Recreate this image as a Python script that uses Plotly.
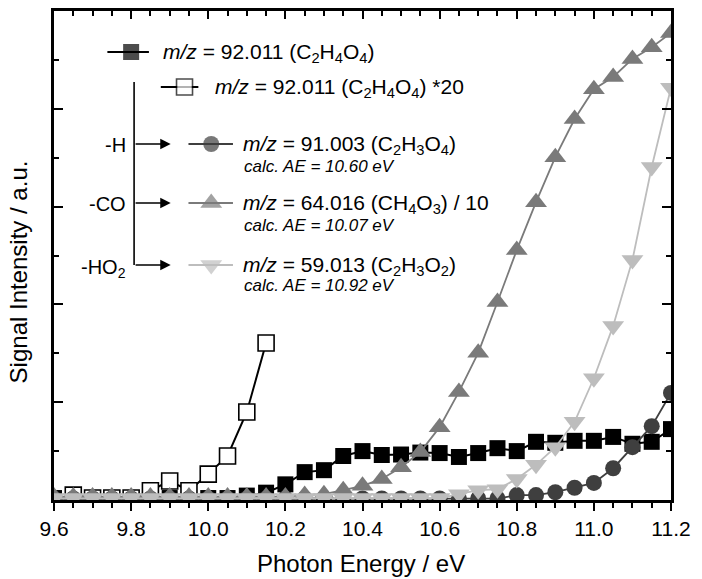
import plotly.graph_objects as go

# ---------------- data ----------------
energy = [9.60, 9.65, 9.70, 9.75, 9.80, 9.85, 9.90, 9.95, 10.00, 10.05, 10.10,
          10.15, 10.20, 10.25, 10.30, 10.35, 10.40, 10.45, 10.50, 10.55, 10.60,
          10.65, 10.70, 10.75, 10.80, 10.85, 10.90, 10.95, 11.00, 11.05, 11.10,
          11.15, 11.20]

mz92 = [0.04, 0.04, 0.04, 0.04, 0.04, 0.04, 0.04, 0.04, 0.04, 0.04, 0.09,
        0.15, 0.32, 0.57, 0.61, 0.90, 1.00, 0.92, 0.93, 0.97, 0.96,
        0.88, 0.96, 1.06, 1.00, 1.19, 1.17, 1.21, 1.21, 1.29, 1.15,
        1.19, 1.45]

energy_x20 = [9.65, 9.70, 9.75, 9.80, 9.85, 9.90, 9.95, 10.00, 10.05, 10.10, 10.15]
mz92_x20 = [0.10, 0.04, 0.04, 0.04, 0.19, 0.39, 0.19, 0.53, 0.90, 1.80, 3.21]

mz91 = [0.03, 0.03, 0.03, 0.03, 0.03, 0.03, 0.03, 0.03, 0.03, 0.03, 0.03,
        0.03, 0.03, 0.03, 0.03, 0.03, 0.03, 0.03, 0.03, 0.03, 0.03,
        0.03, 0.03, 0.03, 0.10, 0.10, 0.16, 0.25, 0.35, 0.65, 1.08,
        1.51, 2.19]

mz64 = [0.07, 0.07, 0.07, 0.07, 0.07, 0.07, 0.07, 0.07, 0.07, 0.07, 0.07,
        0.07, 0.07, 0.10, 0.12, 0.20, 0.29, 0.43, 0.67, 0.98, 1.49,
        2.21, 3.01, 4.05, 5.11, 6.09, 7.01, 7.79, 8.40, 8.65, 9.02,
        9.26, 9.55]

mz59 = [0.04, 0.04, 0.04, 0.04, 0.04, 0.04, 0.04, 0.04, 0.04, 0.04, 0.04,
        0.04, 0.04, 0.04, 0.04, 0.04, 0.04, 0.04, 0.04, 0.04, 0.04,
        0.12, 0.20, 0.22, 0.43, 0.72, 1.08, 1.60, 2.49, 3.56, 4.91,
        6.81, 8.43]

x_ticks = [9.6, 9.8, 10.0, 10.2, 10.4, 10.6, 10.8, 11.0, 11.2]
x_ticklabels = ["9.6", "9.8", "10.0", "10.2", "10.4", "10.6", "10.8", "11.0", "11.2"]

legend_main = [
    "<i>m/z</i> = 92.011 (C<sub>2</sub>H<sub>4</sub>O<sub>4</sub>)",
    "<i>m/z</i> = 92.011 (C<sub>2</sub>H<sub>4</sub>O<sub>4</sub>) *20",
    "<i>m/z</i> = 91.003 (C<sub>2</sub>H<sub>3</sub>O<sub>4</sub>)",
    "<i>m/z</i> = 64.016 (CH<sub>4</sub>O<sub>3</sub>) / 10",
    "<i>m/z</i> = 59.013 (C<sub>2</sub>H<sub>3</sub>O<sub>2</sub>)",
]
calc_ae = ["<i>calc. AE = 10.60 eV</i>", "<i>calc. AE = 10.07 eV</i>", "<i>calc. AE = 10.92 eV</i>"]
loss_labels = ["-H", "-CO", "-HO<sub>2</sub>"]

# ---------------- styles ----------------
FONT = "Liberation Sans, Arial, sans-serif"
C_BLACK = "#000000"
C_DARK = "#3f3f3f"
C_MID = "#7a7a7a"
C_LIGHT = "#bdbdbd"

fig = go.Figure()

fig.add_trace(go.Scatter(x=energy, y=mz92, mode="lines+markers",
                         line=dict(color=C_BLACK, width=2),
                         marker=dict(symbol="square", size=16, color=C_BLACK),
                         showlegend=False))
fig.add_trace(go.Scatter(x=energy_x20, y=mz92_x20, mode="lines+markers",
                         line=dict(color=C_BLACK, width=2),
                         marker=dict(symbol="square", size=16, color="white",
                                     line=dict(color=C_BLACK, width=1.6)),
                         showlegend=False))
fig.add_trace(go.Scatter(x=energy, y=mz91, mode="lines+markers",
                         line=dict(color=C_DARK, width=1.8),
                         marker=dict(symbol="circle", size=16, color=C_DARK),
                         showlegend=False))
fig.add_trace(go.Scatter(x=energy, y=mz64, mode="lines+markers",
                         line=dict(color=C_MID, width=1.8),
                         marker=dict(symbol="triangle-up", size=19, color=C_MID),
                         showlegend=False))
fig.add_trace(go.Scatter(x=energy, y=mz59, mode="lines+markers",
                         line=dict(color=C_LIGHT, width=1.8),
                         marker=dict(symbol="triangle-down", size=19, color=C_LIGHT),
                         showlegend=False))
# empty trace so the top mirror axis is drawn
fig.add_trace(go.Scatter(x=[], y=[], xaxis="x2", yaxis="y", showlegend=False))

# ---------------- custom legend (on a hidden pixel-like overlay axis) ----------------
rows = [
    dict(xs=[108, 132, 150], y=52, sym="square", col=C_BLACK, fill=C_BLACK, size=16, tx=162, lw=2),
    dict(xs=[162, 186, 200], y=87, sym="square", col=C_BLACK, fill="white", size=16, tx=215, lw=2),
    dict(xs=[190, 213, 235], y=144, sym="circle", col=C_DARK, fill=C_DARK, size=16, tx=243, lw=1.8),
    dict(xs=[190, 213, 235], y=203, sym="triangle-up", col=C_MID, fill=C_MID, size=19, tx=243, lw=1.8),
    dict(xs=[190, 213, 235], y=265, sym="triangle-down", col=C_LIGHT, fill=C_LIGHT, size=19, tx=243, lw=1.8),
]
annotations = []
for i, r in enumerate(rows):
    fig.add_trace(go.Scatter(
        x=r["xs"], y=[r["y"]] * 3, xaxis="x3", yaxis="y3", mode="lines+markers",
        line=dict(color=r["col"], width=r["lw"]),
        marker=dict(symbol=r["sym"], size=[0, r["size"], 0], color=r["fill"],
                    line=dict(color=r["col"], width=1.6 if r["fill"] == "white" else 0)),
        showlegend=False, hoverinfo="skip", cliponaxis=False))
    annotations.append(dict(x=r["tx"], y=r["y"] + 1, xref="x3", yref="y3", text=legend_main[i],
                            showarrow=False, xanchor="left", yanchor="middle",
                            font=dict(size=21, color="black", family=FONT)))

for j, yy in enumerate([144, 203, 265]):
    annotations.append(dict(x=244, y=yy + 22 if j < 2 else yy + 20, xref="x3", yref="y3",
                            text=calc_ae[j], showarrow=False, xanchor="left", yanchor="middle",
                            font=dict(size=17, color="black", family=FONT)))
    annotations.append(dict(x=129, y=yy + (1 if j < 2 else 3), xref="x3", yref="y3", text=loss_labels[j],
                            showarrow=False, xanchor="right", yanchor="middle",
                            font=dict(size=20, color="black", family=FONT)))
    annotations.append(dict(x=172, y=yy, ax=135, ay=yy, xref="x3", yref="y3",
                            axref="x3", ayref="y3", text="", showarrow=True,
                            arrowhead=2, arrowsize=1.3, arrowwidth=1.6, arrowcolor="black"))

# axis titles
annotations.append(dict(x=(364 - 54) / 624, y=(500 - 563) / 489, xref="paper", yref="paper",
                        text="Photon Energy / eV", showarrow=False, xanchor="center", yanchor="middle",
                        font=dict(size=24, color="black", family=FONT)))
annotations.append(dict(x=(18 - 54) / 624, y=(500 - 272) / 489, xref="paper", yref="paper",
                        text="Signal Intensity / a.u.", showarrow=False, xanchor="center", yanchor="middle",
                        textangle=-90, font=dict(size=24, color="black", family=FONT)))

shapes = [dict(type="line", xref="x3", yref="y3", x0=135, x1=135, y0=82, y1=265,
               line=dict(color="black", width=1.6))]

xrng = [9.6, 11.2]
fig.update_layout(
    width=702, height=579,
    margin=dict(l=54, r=24, t=11, b=79),
    paper_bgcolor="white", plot_bgcolor="white",
    font=dict(family=FONT, color="black", size=21),
    showlegend=False,
    xaxis=dict(range=xrng, tickvals=x_ticks, ticktext=x_ticklabels,
               ticks="outside", ticklen=8, tickwidth=2, tickcolor="black",
               minor=dict(tick0=9.6, dtick=0.05, ticks="outside", ticklen=5, tickwidth=2, tickcolor="black"),
               showline=True, linewidth=2.5, linecolor="black", mirror=False,
               showgrid=False, zeroline=False, tickfont=dict(size=21, family=FONT)),
    xaxis2=dict(range=xrng, overlaying="x", side="top", anchor="y",
                tickvals=x_ticks, ticks="inside", ticklen=8, tickwidth=2, tickcolor="black",
                minor=dict(tick0=9.6, dtick=0.05, ticks="inside", ticklen=5, tickwidth=2, tickcolor="black"),
                showticklabels=False, showline=True, linewidth=2.5, linecolor="black",
                showgrid=False, zeroline=False),
    yaxis=dict(range=[0, 10], tick0=0, dtick=2, ticks="inside", ticklen=9, tickwidth=2, tickcolor="black",
               minor=dict(tick0=0, dtick=1, ticks="inside", ticklen=5, tickwidth=2, tickcolor="black"),
               showticklabels=False, showline=True, linewidth=2.5, linecolor="black", mirror="ticks",
               showgrid=False, zeroline=False),
    xaxis3=dict(range=[54, 678], overlaying="x", visible=False, anchor="y3"),
    yaxis3=dict(range=[500, 11], overlaying="y", visible=False, anchor="x3"),
    annotations=annotations,
    shapes=shapes,
)

fig.write_html("out.html", config={"displayModeBar": False},
               post_script="document.body.style.margin='0';document.body.style.padding='0';")
